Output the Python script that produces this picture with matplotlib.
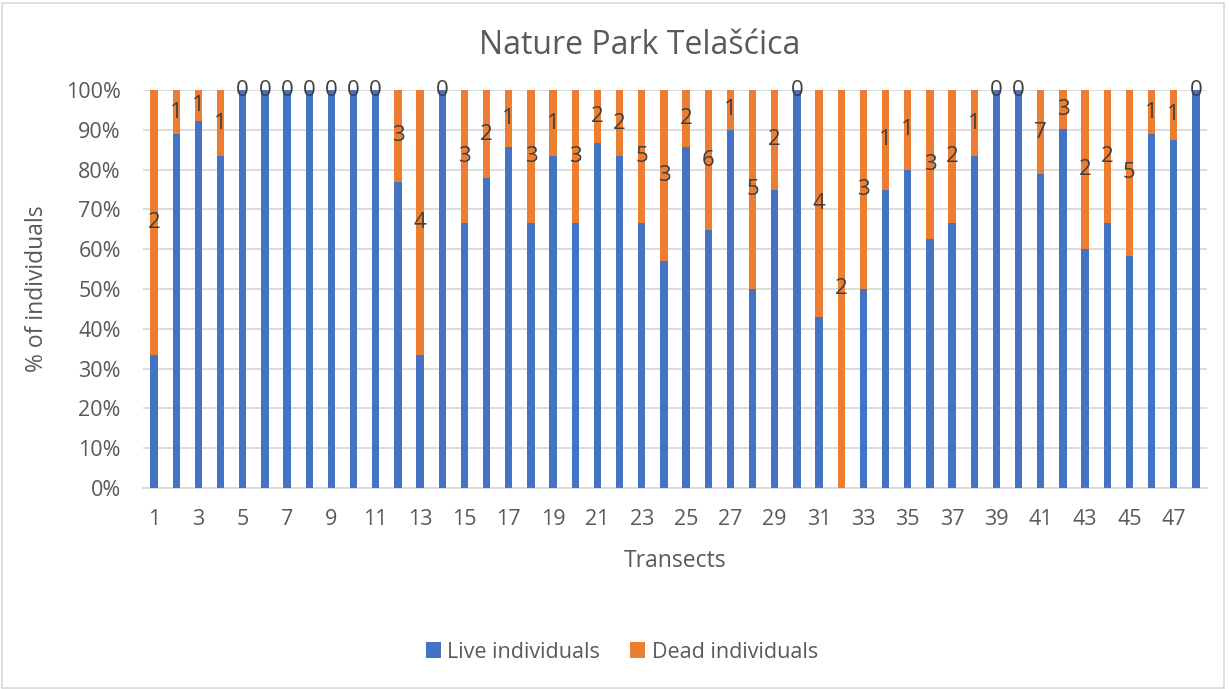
import matplotlib.pyplot as plt
from matplotlib.patches import Rectangle
from matplotlib.ticker import PercentFormatter

transects = list(range(1, 49))
live = [1, 8, 12, 5, 5, 5, 5, 5, 5, 5, 5, 10, 2, 5, 6, 7, 6, 6, 5, 6,
        13, 10, 10, 4, 12, 11, 9, 5, 6, 5, 3, 0, 3, 3, 4, 5, 4, 5, 5, 5,
        26, 28, 3, 4, 7, 8, 7, 5]
dead = [2, 1, 1, 1, 0, 0, 0, 0, 0, 0, 0, 3, 4, 0, 3, 2, 1, 3, 1, 3,
        2, 2, 5, 3, 2, 6, 1, 5, 2, 0, 4, 2, 3, 1, 1, 3, 2, 1, 0, 0,
        7, 3, 2, 2, 5, 1, 1, 0]

live_pct = [100 * l / (l + d) for l, d in zip(live, dead)]
dead_pct = [100 * d / (l + d) for l, d in zip(live, dead)]

blue = '#4472C4'
orange = '#ED7D31'
grey = '#595959'

plt.rcParams['font.family'] = ['Open Sans', 'DejaVu Sans']

fig = plt.figure(figsize=(12.29, 6.89), dpi=100)
ax = fig.add_axes([143 / 1229, 201 / 689, 1064 / 1229, 398 / 689])

ax.bar(transects, live_pct, width=0.33, color=blue, label='Live individuals', zorder=3)
ax.bar(transects, dead_pct, width=0.33, bottom=live_pct, color=orange,
       label='Dead individuals', zorder=3)

# dead counts in the middle of the orange part
for x, lp, dp, d in zip(transects, live_pct, dead_pct, dead):
    ax.text(x, lp + dp / 2, str(d), ha='center', va='center',
            fontsize=16, color='#404040', zorder=4)

ax.set_xlim(0.5, 48.5)
ax.set_ylim(0, 100)
ax.set_yticks(range(0, 101, 10))
ax.yaxis.set_major_formatter(PercentFormatter(decimals=0))
ax.set_xticks(transects[::2])
ax.tick_params(length=0, labelsize=15.5, colors=grey)
ax.tick_params(axis='y', pad=16)
ax.tick_params(axis='x', pad=15)
ax.grid(axis='y', color='#D9D9D9', linewidth=1.3, zorder=0)
for s in ['top', 'right', 'left']:
    ax.spines[s].set_visible(False)
ax.spines['bottom'].set_color('#D9D9D9')
ax.spines['bottom'].set_linewidth(1.3)

fig.suptitle('Nature Park Telašćica', x=640 / 1229, y=1 - 45 / 689, va='center',
             fontsize=23, color=grey)
ax.set_xlabel('Transects', fontsize=16.5, color=grey, labelpad=14)
ax.set_ylabel('% of individuals', fontsize=16.5, color=grey, labelpad=12)

fig.legend(loc='center', bbox_to_anchor=(622 / 1229, 1 - 652 / 689), ncol=2,
           frameon=False, fontsize=15.5, labelcolor=grey, handlelength=0.7,
           handleheight=0.7, handletextpad=0.3, columnspacing=1.4)

fig.patches.append(Rectangle((0.002, 0.002), 0.994, 0.994, transform=fig.transFigure,
                             fill=False, edgecolor='#D9D9D9', linewidth=1.2))

fig.savefig('out.png', dpi=100)
